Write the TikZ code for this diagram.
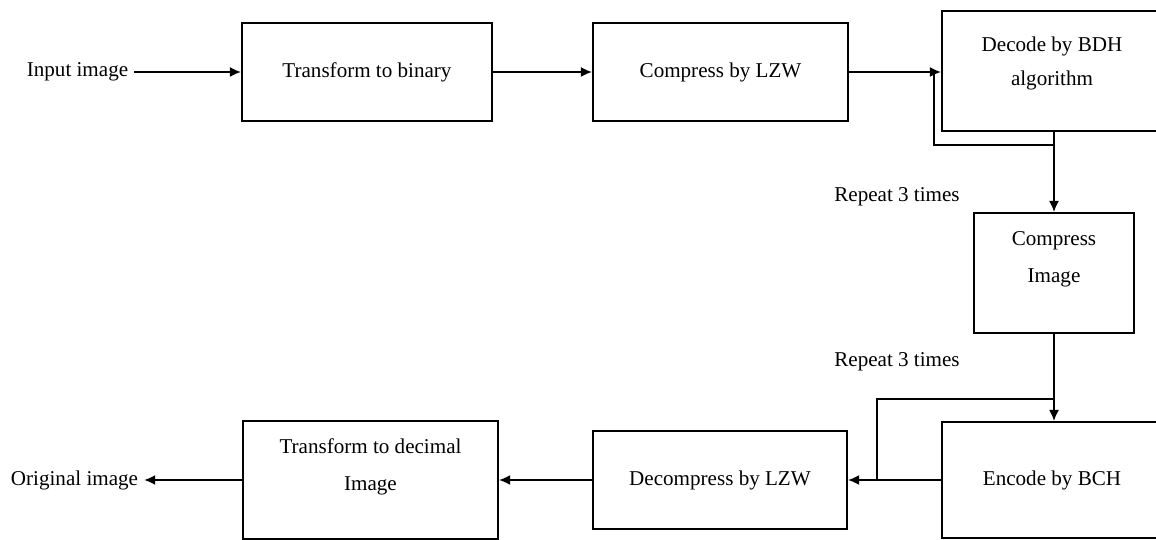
\documentclass[tikz,border=0pt]{standalone}
\usepackage{fontspec}
\setmainfont{Liberation Serif}
\usetikzlibrary{arrows.meta}

\begin{document}
\begin{tikzpicture}[
  font=\fontsize{12}{21}\selectfont,
  box/.style={draw, line width=1.2pt, align=center, inner sep=0pt},
  conn/.style={line width=0.9pt, -{Latex[length=2.2mm,width=2mm]}},
  wire/.style={line width=0.9pt}
]
\useasboundingbox (0,0) rectangle (23.12,-10.8);

\node (inp) at (1.55,-1.44) {Input image};
\node[box, minimum width=5cm, minimum height=1.96cm] (bin) at (7.34,-1.44) {Transform to binary};
\node[box, minimum width=5.1cm, minimum height=1.96cm] (lzw) at (14.41,-1.44) {Compress by LZW};
\node[box, minimum width=4.4cm, minimum height=2.4cm] (bdh) at (21.04,-1.42) {Decode by BDH\\[-2pt]algorithm\\[-10pt]~};

\node[box, minimum width=3.2cm, minimum height=2.4cm] (cimg) at (21.08,-5.46) {Compress\\Image\\[-3pt]~};
\node (rep1) at (17.94,-3.94) {Repeat 3 times};
\node (rep2) at (17.94,-7.24) {Repeat 3 times};

\node[box, minimum width=4.4cm, minimum height=2.32cm] (bch) at (21.04,-9.6) {Encode by BCH};
\node[box, minimum width=5.08cm, minimum height=1.96cm] (dlzw) at (14.4,-9.6) {Decompress by LZW};
\node[box, minimum width=5.1cm, minimum height=2.36cm] (dec) at (7.41,-9.6) {Transform to decimal\\Image\\[-3pt]~};
\node (orig) at (1.49,-9.6) {Original image};

\coordinate (j1) at (18.68,-1.44);
\coordinate (j2) at (21.08,-2.9);
\coordinate (j3) at (21.08,-7.98);
\coordinate (j4) at (17.54,-9.6);

% top row
\draw[conn] (inp) -- (bin);
\draw[conn] (bin) -- (lzw);
\draw[conn] (lzw.east) -- (lzw.east -| bdh.west);
\draw[wire] (j1) |- (j2);

% right column
\draw[conn] (bdh.south -| cimg.north) -- (cimg.north);
\draw[conn] (cimg.south) -- (cimg.south |- bch.north);
\draw[wire] (j3) -| (j4);

% bottom row
\draw[conn] (bch) -- (dlzw);
\draw[conn] (dlzw) -- (dec);
\draw[conn] (dec) -- (orig);

\end{tikzpicture}
\end{document}
